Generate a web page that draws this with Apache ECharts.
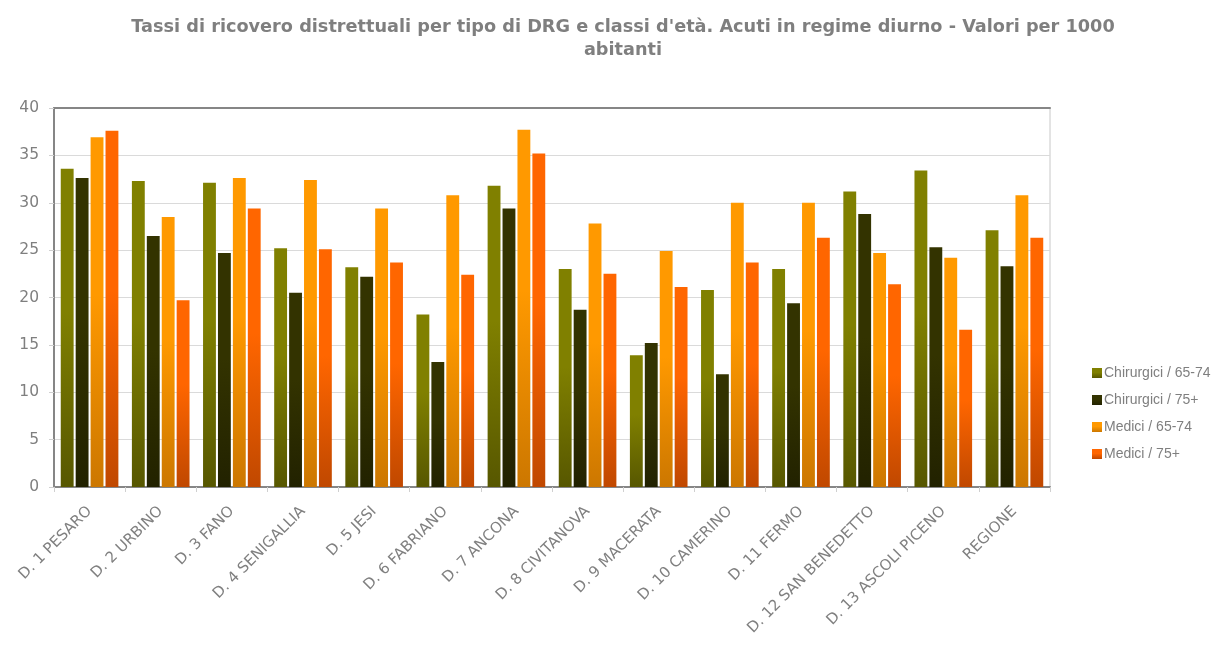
<!DOCTYPE html>
<html lang="it">
<head>
    <meta charset="UTF-8">
    <title>Tassi di ricovero distrettuali</title>
    <script src="https://cdn.jsdelivr.net/npm/echarts@6/dist/echarts.min.js"></script>
    <style>
        html, body { margin: 0; padding: 0; background: #fff; }
        #chart { width: 1212px; height: 645px; }
    </style>
</head>
<body>
<div id="chart"></div>
<script>
    // distretti
    const categories = ['D. 1 PESARO', 'D. 2 URBINO', 'D. 3 FANO', 'D. 4 SENIGALLIA', 'D. 5 JESI',
        'D. 6 FABRIANO', 'D. 7 ANCONA', 'D. 8 CIVITANOVA', 'D. 9 MACERATA', 'D. 10 CAMERINO',
        'D. 11 FERMO', 'D. 12 SAN BENEDETTO', 'D. 13 ASCOLI PICENO', 'REGIONE'];

    const chir6574 = [33.6, 32.3, 32.1, 25.2, 23.2, 18.2, 31.8, 23.0, 13.9, 20.8, 23.0, 31.2, 33.4, 27.1];
    const chir75 = [32.6, 26.5, 24.7, 20.5, 22.2, 13.2, 29.4, 18.7, 15.2, 11.9, 19.4, 28.8, 25.3, 23.3];
    const med6574 = [36.9, 28.5, 32.6, 32.4, 29.4, 30.8, 37.7, 27.8, 24.9, 30.0, 30.0, 24.7, 24.2, 30.8];
    const med75 = [37.6, 19.7, 29.4, 25.1, 23.7, 22.4, 35.2, 22.5, 21.1, 23.7, 26.3, 21.4, 16.6, 26.3];

    const yTicks = [0, 5, 10, 15, 20, 25, 30, 35, 40];

    function grad(top, bottom) {
        return new echarts.graphic.LinearGradient(0, 0, 0, 1, [
            { offset: 0, color: top },
            { offset: 0.45, color: top },
            { offset: 1, color: bottom }
        ]);
    }

    function serie(name, data, top, bottom) {
        return {
            name: name,
            type: 'bar',
            data: data,
            barGap: '16%',
            barCategoryGap: '19%',
            itemStyle: { color: grad(top, bottom) }
        };
    }

    const myChart = echarts.init(document.getElementById('chart'));
    const option = {
        animation: false,
        title: {
            text: "Tassi di ricovero distrettuali per tipo di DRG e classi d'età. Acuti in regime diurno - Valori per 1000\nabitanti",
            left: 618,
            top: 11,
            textAlign: 'center',
            textStyle: {
                fontFamily: 'DejaVu Sans',
                fontSize: 17.7,
                fontWeight: 'bold',
                color: '#7f7f7f',
                lineHeight: 23
            }
        },
        legend: {
            orient: 'vertical',
            left: 1087,
            top: 361,
            itemWidth: 10,
            itemHeight: 10,
            itemGap: 13,
            icon: 'rect',
            textStyle: { fontFamily: 'Liberation Sans', fontSize: 14, color: '#7f7f7f', padding: [0, 0, 0, -3] },
            data: ['Chirurgici / 65-74', 'Chirurgici / 75+', 'Medici / 65-74', 'Medici / 75+']
        },
        grid: {
            left: 54,
            right: 162,
            top: 108,
            bottom: 158,
            show: true,
            borderColor: '#c8c8c8',
            borderWidth: 1
        },
        xAxis: [{
            type: 'category',
            data: categories,
            axisLine: { lineStyle: { color: '#868686', width: 2 } },
            axisTick: { show: true, length: 5, lineStyle: { color: '#d0d0d0' } },
            axisLabel: {
                rotate: 45,
                interval: 0,
                margin: 22,
                fontFamily: 'DejaVu Sans',
                fontSize: 15,
                color: '#808080'
            }
        }, {
            type: 'category',
            position: 'top',
            data: categories,
            axisLine: { lineStyle: { color: '#868686', width: 2 } },
            axisTick: { show: false },
            axisLabel: { show: false }
        }],
        yAxis: {
            type: 'value',
            min: yTicks[0],
            max: yTicks[yTicks.length - 1],
            interval: 5,
            axisLine: { show: true, lineStyle: { color: '#868686', width: 2 } },
            axisTick: { show: true, length: 5, lineStyle: { color: '#d0d0d0' } },
            axisLabel: { fontFamily: 'DejaVu Sans', fontSize: 15.5, color: '#7f7f7f', margin: 15 },
            splitLine: { lineStyle: { color: '#dadada' } }
        },
        series: [
            serie('Chirurgici / 65-74', chir6574, '#808000', '#575700'),
            serie('Chirurgici / 75+', chir75, '#333300', '#222200'),
            serie('Medici / 65-74', med6574, '#ff9900', '#cc7700'),
            serie('Medici / 75+', med75, '#ff6600', '#c04800')
        ]
    };
    myChart.setOption(option);
</script>
</body>
</html>
